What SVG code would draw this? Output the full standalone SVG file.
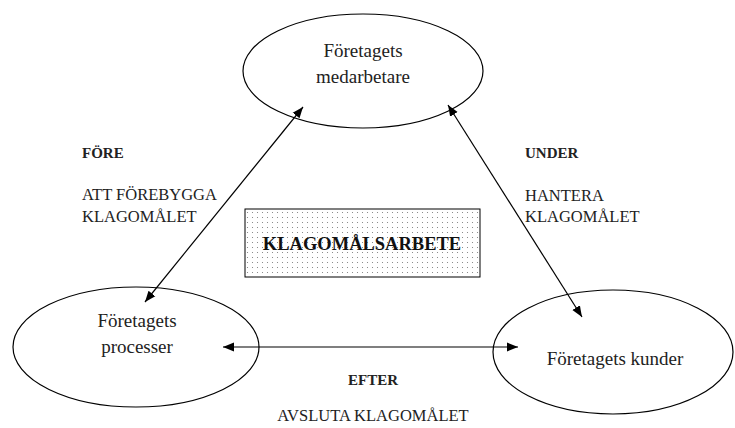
<svg xmlns="http://www.w3.org/2000/svg" width="735" height="428" viewBox="0 0 735 428">
  <style>
    text { font-family: 'Liberation Serif', 'DejaVu Serif', serif; fill: #222; }
    .node { fill: #fff; stroke: #000; stroke-width: 1.2; }
    .lbl { font-size: 19px; text-anchor: middle; }
    .cap { font-size: 16.5px; }
    .hd { font-weight: bold; font-size: 15px; }
    .conn { stroke: #000; stroke-width: 1.2; fill: none; marker-start: url(#ah); marker-end: url(#ah); }
  </style>
  <defs>
    <marker id="ah" viewBox="0 0 10 10" refX="10" refY="5" markerWidth="11" markerHeight="11" markerUnits="userSpaceOnUse" orient="auto-start-reverse">
      <path d="M0,1 L10,5 L0,9 Z" fill="#000"/>
    </marker>
    <pattern id="dots" width="5" height="5" patternUnits="userSpaceOnUse">
      <rect width="5" height="5" fill="#fff"/>
      <circle cx="2.5" cy="2.5" r="0.55" fill="#777"/>
    </pattern>
  </defs>
  <rect width="735" height="428" fill="#fff"/>

  <g id="medarbetare">
    <ellipse class="node" cx="363" cy="71" rx="120" ry="57"/>
    <text class="lbl" x="363" y="57">Företagets</text>
    <text class="lbl" x="363" y="83">medarbetare</text>
  </g>

  <g id="processer">
    <ellipse class="node" cx="136" cy="347" rx="123" ry="60"/>
    <text class="lbl" x="137" y="327">Företagets</text>
    <text class="lbl" x="137" y="353">processer</text>
  </g>

  <g id="kunder">
    <ellipse class="node" cx="613" cy="352" rx="120" ry="62"/>
    <text class="lbl" x="615" y="365">Företagets kunder</text>
  </g>

  <g id="klagomalsarbete">
    <rect x="245" y="209" width="235" height="68" fill="url(#dots)" stroke="#000" stroke-width="1"/>
    <text class="lbl" x="362" y="250" style="fill:#111;font-weight:bold;font-size:18.5px">KLAGOMÅLSARBETE</text>
  </g>

  <g id="connectors">
    <line class="conn" x1="145" y1="302" x2="303" y2="107"/>
    <line class="conn" x1="448" y1="105" x2="582" y2="317"/>
    <line class="conn" x1="223" y1="347" x2="518" y2="347"/>
  </g>

  <g id="labels">
    <text class="hd" x="82" y="158">FÖRE</text>
    <text class="cap" x="82" y="200">ATT FÖREBYGGA</text>
    <text class="cap" x="82" y="222">KLAGOMÅLET</text>
    <text class="hd" x="525" y="158">UNDER</text>
    <text class="cap" x="525" y="201">HANTERA</text>
    <text class="cap" x="525" y="222">KLAGOMÅLET</text>
    <text class="hd" x="373" y="385" text-anchor="middle">EFTER</text>
    <text class="cap" x="373" y="421" text-anchor="middle">AVSLUTA KLAGOMÅLET</text>
  </g>
</svg>
